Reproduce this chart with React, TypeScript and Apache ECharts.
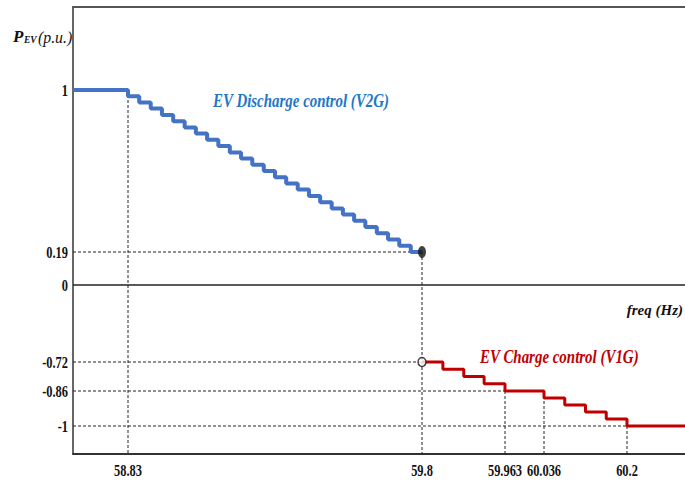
import React, { useEffect, useRef } from "react";
import * as echarts from "echarts";

// ---------- data ----------
const xTickValues = [58.83, 59.8, 59.963, 60.036, 60.2];
const xTickLabels = ["58.83", "59.8", "59.963", "60.036", "60.2"];
const yTickValues = [1, 0.19, 0, -0.72, -0.86, -1];
const yTickLabels = ["1", "0.19", "0", "-0.72", "-0.86", "-1"];
const freqRange = [58.65, 60.315];
const powerRange = [-1.112, 1.415];

// EV discharge control (V2G): frequency where each step starts and its power level
const dischargeFreq = [
  58.65, 58.83, 58.867, 58.905, 58.942, 58.979, 59.017, 59.054, 59.091, 59.128,
  59.166, 59.203, 59.24, 59.278, 59.315, 59.352, 59.39, 59.427, 59.464, 59.502,
  59.539, 59.576, 59.613, 59.651, 59.688, 59.725, 59.763, 59.8,
];
const dischargePower = [
  1, 0.969, 0.938, 0.907, 0.875, 0.844, 0.813, 0.782, 0.751, 0.72,
  0.688, 0.657, 0.626, 0.595, 0.564, 0.533, 0.502, 0.47, 0.439, 0.408,
  0.377, 0.346, 0.315, 0.284, 0.253, 0.221, 0.19, 0.19,
];

// EV charge control (V1G)
const chargeFreq = [59.8, 59.841, 59.882, 59.922, 59.963, 60.036, 60.077, 60.118, 60.159, 60.2, 60.315];
const chargePower = [-0.72, -0.755, -0.79, -0.825, -0.86, -0.888, -0.916, -0.944, -0.972, -1, -1];

// dashed guide lines
const vGuideTop = [1, 0.19, -0.86, -0.86, -1]; // for each x tick
const hGuideLevels = [0.19, -0.72, -0.86, -1];
const hGuideEnd = [59.8, 59.8, 59.963, 60.2];

// ---------- schematic (non-linear) axis layout ----------
const X_POS = [0, 55, 349, 432, 471, 554, 612];
const Y_POS = [0, 28, 63, 92, 169, 202, 364, 447];
const xAnchorVals = [freqRange[0], ...xTickValues, freqRange[1]];
const yAnchorVals = [powerRange[0], ...[...yTickValues].sort((a, b) => a - b), powerRange[1]];

function warp(v: number, vals: number[], pos: number[]) {
  for (let i = 0; i < vals.length - 1; i++) {
    if (v <= vals[i + 1] || i === vals.length - 2) {
      const t = (v - vals[i]) / (vals[i + 1] - vals[i]);
      return pos[i] + t * (pos[i + 1] - pos[i]);
    }
  }
  return pos[pos.length - 1];
}
const wx = (v: number) => warp(v, xAnchorVals, X_POS);
const wy = (v: number) => warp(v, yAnchorVals, Y_POS);

const SERIF = "'Liberation Serif', 'Times New Roman', serif";

export default function App() {
  const ref = useRef<HTMLDivElement>(null);
  useEffect(() => {
    if (!ref.current) return;
    const chart = echarts.init(ref.current, null, { renderer: "svg" });
    const dash = { color: "#222", width: 1, type: [3, 2] as any };
    const guideSeries: any[] = [];
    xTickValues.forEach((v, i) => {
      guideSeries.push({
        type: "line", silent: true, showSymbol: false, z: 1,
        lineStyle: dash,
        data: [[wx(v), wy(vGuideTop[i])], [wx(v), wy(powerRange[0])]],
      });
    });
    hGuideLevels.forEach((lv, i) => {
      guideSeries.push({
        type: "line", silent: true, showSymbol: false, z: 1,
        lineStyle: dash,
        data: [[wx(freqRange[0]), wy(lv)], [wx(hGuideEnd[i]), wy(lv)]],
      });
    });
    const axisCommon = {
      type: "value" as const,
      axisTick: { show: false },
      axisLabel: { show: false },
      splitLine: { show: false },
    };
    const lastD = dischargeFreq.length - 1;
    chart.setOption({
      animation: false,
      backgroundColor: "#fff",
      grid: { left: 73, right: 0, top: 7, bottom: 28 },
      xAxis: [
        { ...axisCommon, min: 0, max: 612, position: "bottom", axisLine: { show: true, onZero: false, lineStyle: { color: "#333", width: 2 } } },
        { ...axisCommon, min: 0, max: 612, position: "top", axisLine: { show: true, onZero: false, lineStyle: { color: "#555", width: 2 } } },
      ],
      yAxis: { ...axisCommon, min: 0, max: 447, axisLine: { show: true, onZero: false, lineStyle: { color: "#333", width: 1.5 } } },
      series: [
        {
          type: "line", name: "EV Discharge control (V2G)", step: "end", showSymbol: false, z: 3,
          lineStyle: { color: "#4472C4", width: 4 },
          data: dischargeFreq.map((f, i) => [wx(f), wy(dischargePower[i])]),
        },
        {
          type: "line", name: "EV Charge control (V1G)", step: "end", showSymbol: false, z: 3,
          lineStyle: { color: "#C00000", width: 3 },
          data: chargeFreq.map((f, i) => [wx(f), wy(chargePower[i])]),
        },
        {
          type: "line", showSymbol: false, z: 2, silent: true,
          lineStyle: { color: "#222", width: 1.5 },
          data: [[wx(freqRange[0]), wy(0)], [wx(freqRange[1]), wy(0)]],
        },
        ...guideSeries,
        {
          type: "scatter", z: 5, symbol: "circle", symbolSize: [8, 12],
          itemStyle: { color: "#111" },
          data: [[wx(dischargeFreq[lastD]), wy(dischargePower[lastD])]],
        },
        {
          type: "scatter", z: 5, symbol: "circle", symbolSize: [8, 9],
          itemStyle: { color: "#fff", borderColor: "#111", borderWidth: 1.5 },
          data: [[wx(chargeFreq[0]), wy(chargePower[0])]],
        },
      ],
    });

    const toPx = (x: number, y: number) => chart.convertToPixel({ seriesIndex: 0 }, [x, y]) as number[];
    const tickStyle = { fontFamily: SERIF, fontSize: 17, fontWeight: "bold", fill: "#111", textVerticalAlign: "middle" };
    const graphics: any[] = [];
    xTickValues.forEach((v, i) => {
      const [px] = toPx(wx(v), 0);
      graphics.push({ type: "text", x: px, y: 470, scaleX: 0.73, style: { ...tickStyle, text: xTickLabels[i], textAlign: "center" } });
    });
    yTickValues.forEach((v, i) => {
      const [, py] = toPx(0, wy(v));
      graphics.push({ type: "text", x: 68, y: py, scaleX: 0.73, style: { ...tickStyle, text: yTickLabels[i], textAlign: "right" } });
    });
    graphics.push(
      { type: "text", x: 13, y: 36, style: { text: "P", fontFamily: SERIF, fontSize: 17, fontStyle: "italic", fontWeight: "bold", fill: "#111", textVerticalAlign: "middle" } },
      { type: "text", x: 24, y: 39.5, scaleX: 0.95, style: { text: "EV", fontFamily: SERIF, fontSize: 10, fontStyle: "italic", fontWeight: "bold", fill: "#111", textVerticalAlign: "middle" } },
      { type: "text", x: 38, y: 37, scaleX: 0.93, style: { text: "(p.u.)", fontFamily: SERIF, fontSize: 17, fontStyle: "italic", fill: "#111", textVerticalAlign: "middle" } },
      { type: "text", x: 683, y: 310, style: { text: "freq (Hz)", fontFamily: SERIF, fontSize: 15, fontStyle: "italic", fontWeight: "bold", fill: "#111", textAlign: "right", textVerticalAlign: "middle" } },
      { type: "text", x: 213, y: 101, scaleX: 0.83, style: { text: "EV Discharge control (V2G)", fontFamily: SERIF, fontSize: 18, fontStyle: "italic", fontWeight: "bold", fill: "#2277C4", textVerticalAlign: "middle" } },
      { type: "text", x: 480, y: 357, scaleX: 0.83, style: { text: "EV Charge control (V1G)", fontFamily: SERIF, fontSize: 18, fontStyle: "italic", fontWeight: "bold", fill: "#C00000", textVerticalAlign: "middle" } },
    );
    chart.setOption({ graphic: graphics });
    return () => chart.dispose();
  }, []);
  return <div ref={ref} style={{ position: "absolute", left: 0, top: 0, width: 685, height: 482, background: "#fff" }} />;
}
